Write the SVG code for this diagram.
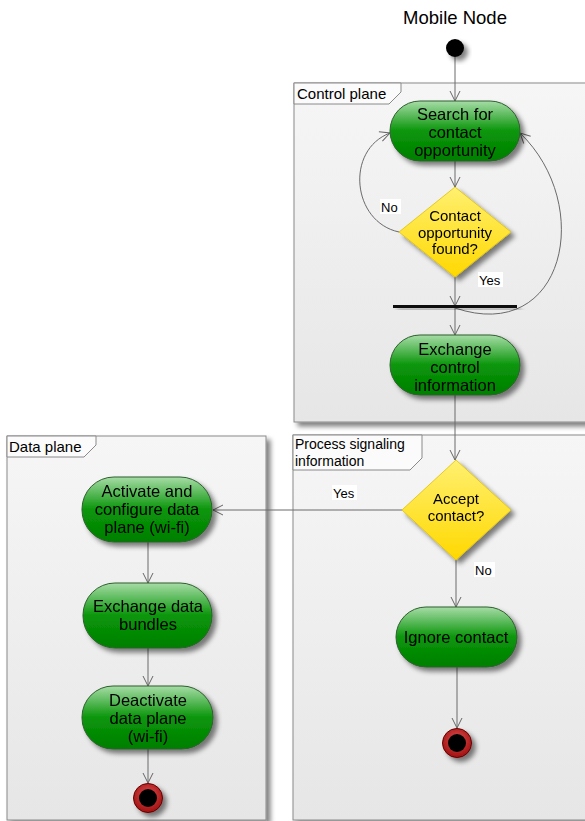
<svg xmlns="http://www.w3.org/2000/svg" width="585" height="821" viewBox="0 0 585 821">
<defs>
<linearGradient id="gGreen" x1="0" y1="0" x2="0" y2="1">
<stop offset="0" stop-color="#a6dca6"/><stop offset="0.5" stop-color="#0a960a"/><stop offset="1" stop-color="#007f00"/>
</linearGradient>
<linearGradient id="gYellow" x1="0" y1="0" x2="0" y2="1">
<stop offset="0" stop-color="#fff070"/><stop offset="1" stop-color="#ffd800"/>
</linearGradient>
<linearGradient id="gFrame" x1="0" y1="0" x2="0" y2="1">
<stop offset="0" stop-color="#f6f6f6"/><stop offset="1" stop-color="#e6e6e6"/>
</linearGradient>
<radialGradient id="gRed" cx="0.5" cy="0.4" r="0.6">
<stop offset="0" stop-color="#e05050"/><stop offset="1" stop-color="#a01010"/>
</radialGradient>
<filter id="sh" x="-30%" y="-30%" width="170%" height="170%">
<feGaussianBlur in="SourceAlpha" stdDeviation="2.5"/>
<feOffset dx="4" dy="4" result="b"/>
<feComponentTransfer><feFuncA type="linear" slope="0.5"/></feComponentTransfer>
<feMerge><feMergeNode/><feMergeNode in="SourceGraphic"/></feMerge>
</filter>
<marker id="arr" viewBox="0 0 12 12" refX="11" refY="6" markerWidth="12" markerHeight="12" markerUnits="userSpaceOnUse" orient="auto">
<path d="M1,1 L11,6 L1,11" fill="none" stroke="#666" stroke-width="1"/>
</marker>
</defs>
<style>
text{font-family:"Liberation Sans",Arial,sans-serif;fill:#000}
.frame{fill:url(#gFrame);stroke:#8a8a8a;stroke-width:1}
.tab{fill:#fbfbfb;stroke:#8a8a8a;stroke-width:1}
.ftxt{font-size:15px}
.ftxt2{font-size:14px}
.act{fill:url(#gGreen);stroke:#2f5f2f;stroke-width:1}
.dec{fill:url(#gYellow);stroke:#e0c000;stroke-width:0.8}
.ntxt{font-size:16.5px;text-anchor:middle}
.dtxt{font-size:15px;text-anchor:middle}
.edge{fill:none;stroke:#6a6a6a;stroke-width:1;marker-end:url(#arr)}
.lbl{font-size:13px}
.lblbg{fill:#fff}
</style>
<rect width="585" height="821" fill="#fff"/>
<text x="455" y="24" font-size="18.5" text-anchor="middle">Mobile Node</text>

<g id="frame-control" filter="url(#sh)">
<rect class="frame" x="294" y="83" width="300" height="339"/>
</g>
<g id="frame-control-tab"><path class="tab" d="M294,83 H401 V92 L389,104 H294 Z"/><text class="ftxt" x="297" y="99">Control plane</text></g>

<g id="frame-data" filter="url(#sh)">
<rect class="frame" x="7" y="436" width="259" height="384"/>
</g>
<g id="frame-data-tab"><path class="tab" d="M7,436 H96 V445 L84,457 H7 Z"/><text class="ftxt" x="9" y="452">Data plane</text></g>

<g id="frame-process" filter="url(#sh)">
<rect class="frame" x="293" y="435" width="300" height="385"/>
</g>
<g id="frame-process-tab"><path class="tab" d="M293,435 H422 V458 L410,470 H293 Z"/><text class="ftxt2" x="295" y="449">Process signaling</text><text class="ftxt2" x="295" y="466">information</text></g>

<g id="connectors">
<path class="edge" d="M455,57 V101"/>
<path class="edge" d="M455,161 V187"/>
<path class="edge" d="M399,232 C352,222 345,150 390,133"/>
<path class="edge" d="M455,277 V306"/>
<path class="edge" d="M455,308 C565,345 595,205 520,133"/>
<path class="edge" d="M455,308 V335"/>
<path class="edge" d="M455,395 V460"/>
<path class="edge" d="M402,510 H213"/>
<path class="edge" d="M456,560 V607"/>
<path class="edge" d="M148,542 V583"/>
<path class="edge" d="M148,648 V686"/>
<path class="edge" d="M148,749 V783"/>
<path class="edge" d="M457,667 V728"/>
<rect class="lblbg" x="380" y="199" width="21" height="15"/><text class="lbl" x="381" y="212">No</text>
<rect class="lblbg" x="478" y="272" width="25" height="15"/><text class="lbl" x="479" y="285">Yes</text>
<rect class="lblbg" x="332" y="485" width="25" height="15"/><text class="lbl" x="333" y="498">Yes</text>
<rect class="lblbg" x="474" y="562" width="21" height="15"/><text class="lbl" x="475" y="575">No</text>
</g>

<g id="start" filter="url(#sh)"><circle cx="455" cy="48" r="9" fill="#000"/></g>

<g id="search" filter="url(#sh)">
<rect class="act" x="390" y="101" width="130" height="60" rx="30"/>
<text class="ntxt" x="455" y="120">Search for</text><text class="ntxt" x="455" y="138">contact</text><text class="ntxt" x="455" y="156">opportunity</text>
</g>

<g id="found" filter="url(#sh)">
<path class="dec" d="M455,187 L511,232 L455,277 L399,232 Z"/>
<text class="dtxt" x="455" y="221">Contact</text><text class="dtxt" x="455" y="238">opportunity</text><text class="dtxt" x="455" y="254">found?</text>
</g>

<g id="sync" filter="url(#sh)"><rect x="393" y="305" width="124" height="3" fill="#111"/></g>

<g id="exchange-control" filter="url(#sh)">
<rect class="act" x="390" y="335" width="130" height="60" rx="30"/>
<text class="ntxt" x="455" y="355">Exchange</text><text class="ntxt" x="455" y="373">control</text><text class="ntxt" x="455" y="391">information</text>
</g>

<g id="accept" filter="url(#sh)">
<path class="dec" d="M456,460 L511,510 L456,560 L402,510 Z"/>
<text class="dtxt" x="456" y="504">Accept</text><text class="dtxt" x="456" y="521">contact?</text>
</g>

<g id="ignore" filter="url(#sh)">
<rect class="act" x="396" y="607" width="121" height="60" rx="30"/>
<text class="ntxt" x="456" y="643">Ignore contact</text>
</g>

<g id="activate" filter="url(#sh)">
<rect class="act" x="82" y="477" width="130" height="65" rx="32"/>
<text class="ntxt" x="147" y="497">Activate and</text><text class="ntxt" x="147" y="515">configure data</text><text class="ntxt" x="147" y="533">plane (wi-fi)</text>
</g>

<g id="exchange-data" filter="url(#sh)">
<rect class="act" x="83" y="583" width="129" height="65" rx="32"/>
<text class="ntxt" x="148" y="612">Exchange data</text><text class="ntxt" x="148" y="630">bundles</text>
</g>

<g id="deactivate" filter="url(#sh)">
<rect class="act" x="82" y="686" width="131" height="63" rx="31"/>
<text class="ntxt" x="148" y="706">Deactivate</text><text class="ntxt" x="148" y="724">data plane</text><text class="ntxt" x="148" y="742">(wi-fi)</text>
</g>

<g id="end-data" filter="url(#sh)">
<circle cx="148" cy="798" r="14.5" fill="url(#gRed)" stroke="#600" stroke-width="1"/>
<circle cx="148" cy="798" r="9" fill="#000"/>
</g>

<g id="end-process" filter="url(#sh)">
<circle cx="457" cy="743" r="14.5" fill="url(#gRed)" stroke="#600" stroke-width="1"/>
<circle cx="457" cy="743" r="9" fill="#000"/>
</g>
</svg>
